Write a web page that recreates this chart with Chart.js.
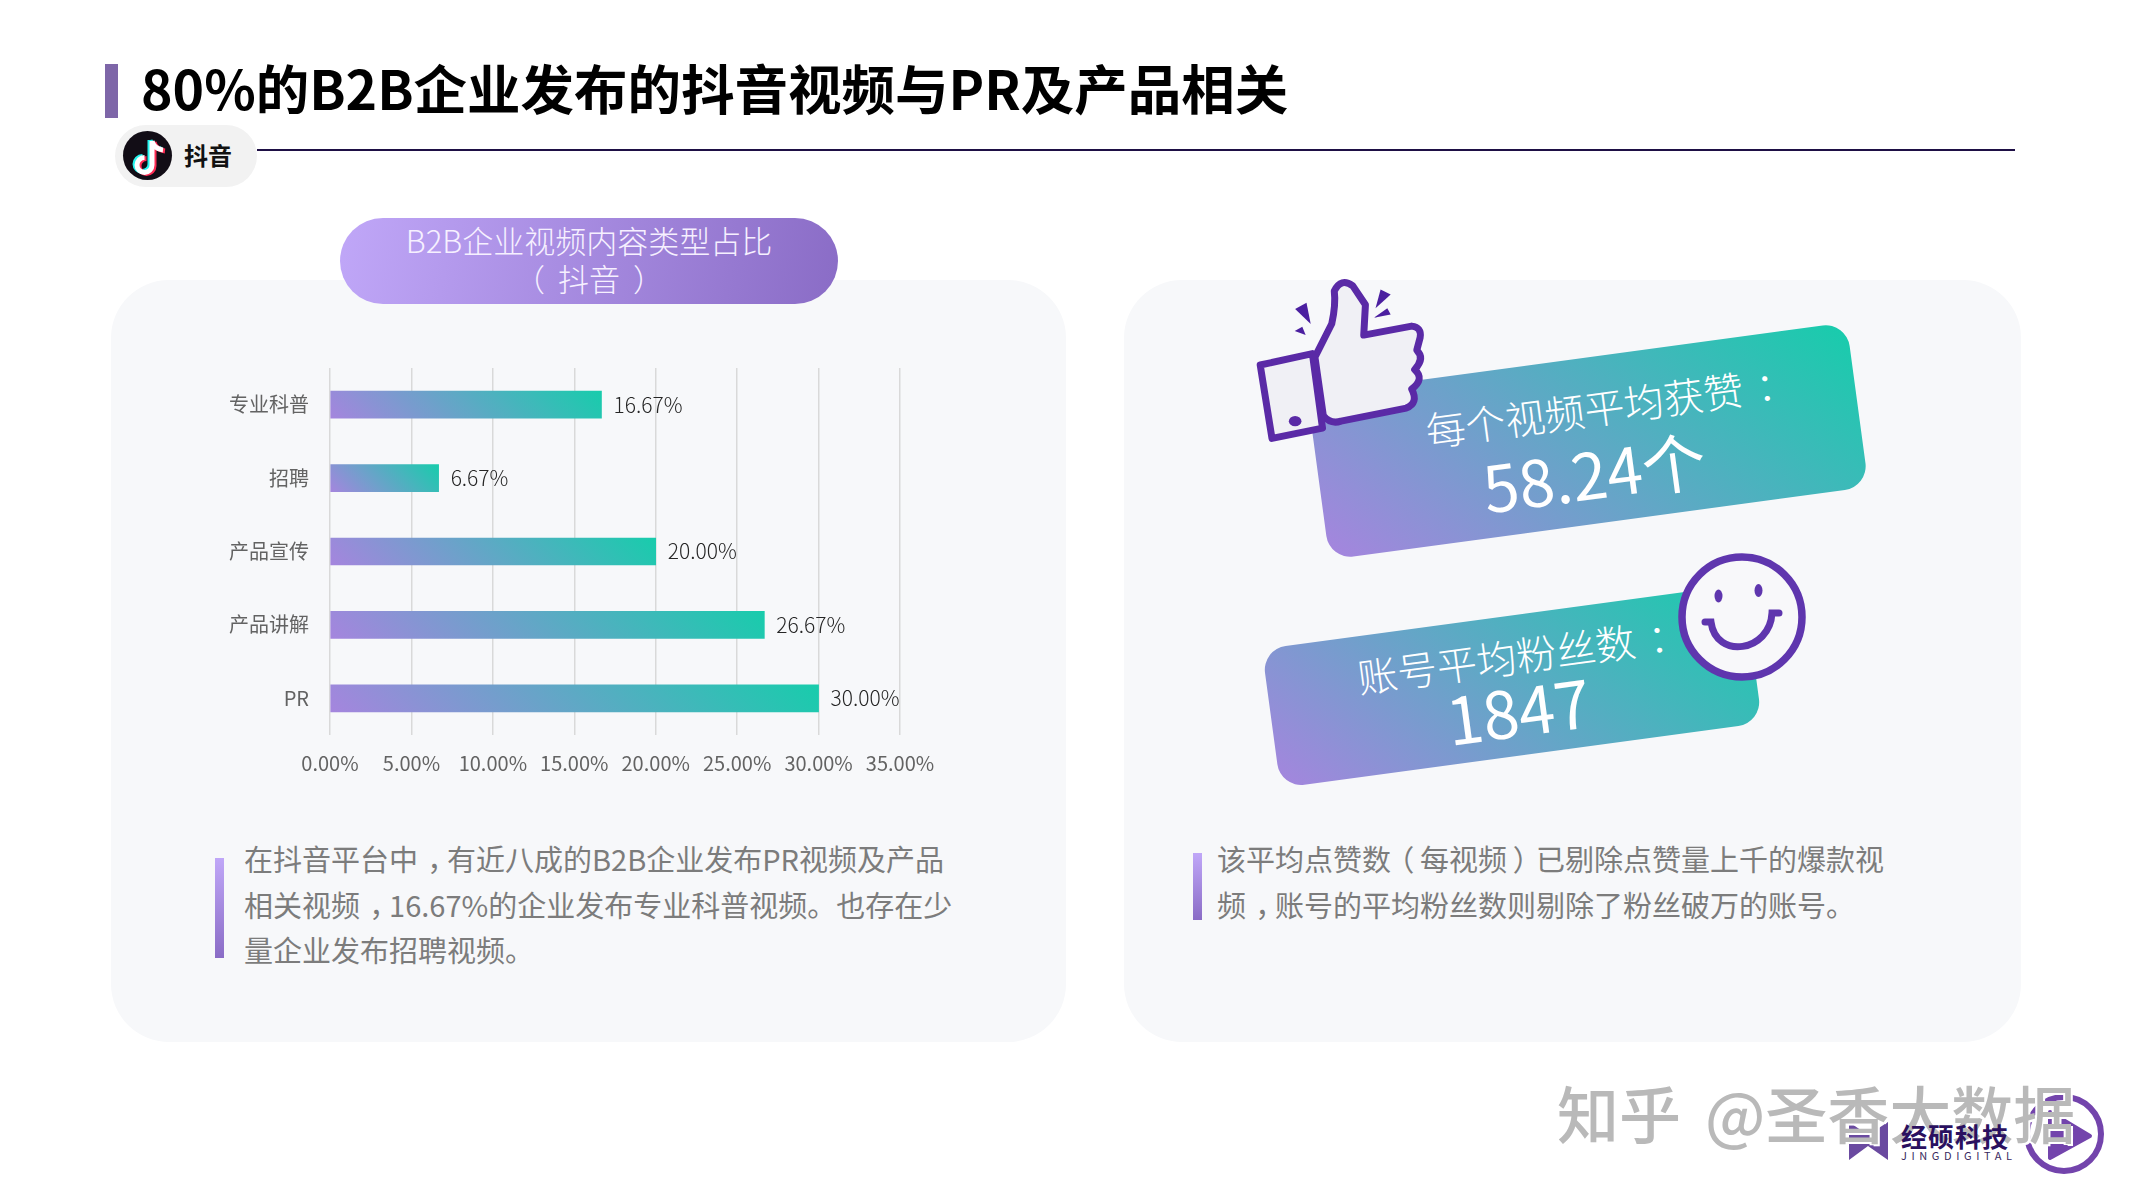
<!DOCTYPE html>
<html lang="zh">
<head>
<meta charset="utf-8">
<title>80%的B2B企业发布的抖音视频与PR及产品相关</title>
<script src="https://cdn.jsdelivr.net/npm/chart.js@4"></script>
<style>
    html, body { margin: 0; padding: 0; background: #fff; }
    body { position: relative; width: 2133px; height: 1200px; overflow: hidden; font-family: "Noto Sans CJK SC", "Noto Sans", sans-serif; }
    .abs { position: absolute; }
    /* the reference centres its fullwidth punctuation in the em box */
    .p { position: relative; left: .32em; }
    .pl { position: relative; left: -.2em; }
    .pr { position: relative; left: .2em; }
    .title { left: 141px; top: 47px; font-size: 53.5px; font-weight: 700; color: #000; line-height: 80px; white-space: nowrap; }
    .title-bar { left: 105px; top: 64px; width: 13px; height: 54px; background: #7e66a8; }
    .rule { left: 257px; top: 149px; width: 1758px; height: 1.5px; background: #1e0f45; }
    .tag { left: 115px; top: 125px; width: 142px; height: 62px; border-radius: 31px; background: #f2f2f2; }
    .tag-text { left: 184px; top: 137px; font-size: 24px; font-weight: 700; line-height: 36px; color: #111; }
    .card { top: 280px; height: 762px; border-radius: 58px; background: #f7f8fa; }
    .pill { left: 340px; top: 218px; width: 498px; height: 86px; border-radius: 43px; background: linear-gradient(100deg, #c0a7f8, #8a6cc6); color: #f6f0ff; text-align: center; font-size: 31px; font-weight: 300; line-height: 38px; padding-top: 3px; box-sizing: border-box; }
    .note-bar { width: 9px; background: linear-gradient(180deg, #c0a7f8, #8a6cc6); }
    .note { font-size: 29px; font-weight: 400; line-height: 45.5px; color: #7c7c7c; white-space: nowrap; }
    .stat { color: #fff; white-space: nowrap; transform: translate(-50%, -50%) rotate(-7.7deg); line-height: 1; }
    #chart { position: absolute; left: 160px; top: 340px; }
    .mark { left: 1557px; top: 1067px; font-size: 62px; font-weight: 500; line-height: 90px; word-spacing: 10px; color: #b9b9b9; text-shadow: 2px 2px 0 #fff, -2px 1px 0 #fff; white-space: nowrap; }
    .brand { left: 1901px; top: 1120px; font-size: 26px; font-weight: 700; line-height: 32px; color: #2a1060; letter-spacing: 1px; white-space: nowrap; }
    .brand-en { left: 1901px; top: 1148px; font-size: 11px; line-height: 14px; letter-spacing: 4.6px; color: #3a2a60; white-space: nowrap; }
</style>
</head>
<body>

<div class="abs title-bar"></div>
<div class="abs title">80%的B2B企业发布的抖音视频与PR及产品相关</div>
<div class="abs rule"></div>
<div class="abs tag"></div>
<div class="abs tag-text">抖音</div>

<div class="abs card" style="left:111px;width:955px"></div>
<div class="abs card" style="left:1124px;width:897px"></div>
<div class="abs pill">B2B企业视频内容类型占比<br><span class="pl">（</span> 抖音 <span class="pr">）</span></div>

<svg class="abs" style="left:0;top:0" width="2133" height="1200" viewBox="0 0 2133 1200">
    <defs>
        <linearGradient id="badgeA" gradientUnits="userSpaceOnUse" x1="-175" y1="175" x2="175" y2="-175">
            <stop offset="0" stop-color="#a585de"/><stop offset="1" stop-color="#18ccac"/>
        </linearGradient>
        <linearGradient id="badgeB" gradientUnits="userSpaceOnUse" x1="-157" y1="157" x2="157" y2="-157">
            <stop offset="0" stop-color="#a585de"/><stop offset="1" stop-color="#18ccac"/>
        </linearGradient>
    </defs>

    <!-- tiktok icon -->
    <circle cx="147.5" cy="155.5" r="24.5" fill="#120d16"/>
    <g fill="none" stroke-width="5">
        <path d="M150 140v24a7.5 7.5 0 1 1-7.5-7.5M150 140q2 8 11 9" stroke="#25f4ee"/>
        <path d="M154 142v24a7.5 7.5 0 1 1-7.5-7.5M154 142q2 8 11 9" stroke="#fe2c55"/>
        <path d="M152 141v24a7.5 7.5 0 1 1-7.5-7.5M152 141q2 8 11 9" stroke="#fff"/>
    </g>

    <!-- stat badges -->
    <g transform="translate(1588 441) rotate(-7.7)">
        <rect x="-272" y="-83" width="544" height="166" rx="24" fill="url(#badgeA)"/>
    </g>
    <g transform="translate(1512 686) rotate(-7.7)">
        <rect x="-243" y="-70" width="486" height="140" rx="24" fill="url(#badgeB)"/>
    </g>

    <!-- thumb, coordinates taken from the zoomed crop -->
    <g transform="translate(1240 260) scale(0.4209 0.3444)" stroke="#5a2aa6" stroke-linejoin="round">
        <path vector-effect="non-scaling-stroke" stroke-width="7" fill="#f0f0f5"
              d="M178 282 L218 185 Q228 130 224 90 Q240 50 268 75 L298 130 L294 218 L408 192 Q432 195 428 225 L420 262 Q440 285 415 318 Q440 345 408 375 Q425 415 395 430 L240 468 Q215 478 198 452 Z"/>
        <path vector-effect="non-scaling-stroke" stroke-width="7" fill="#f0f0f5"
              d="M48 305 L172 272 L196 488 L76 518 Z"/>
        <circle cx="131" cy="468" r="15" fill="#5a2aa6" stroke="none"/>
        <g fill="#4b1fa0" stroke="none">
            <path d="M131 142L158 124L168 186Z"/>
            <path d="M130 206L148 194L156 218Z"/>
            <path d="M334 86L358 100L322 140Z"/>
            <path d="M318 168L350 140L358 158Z"/>
        </g>
    </g>

    <!-- smile -->
    <circle cx="1742" cy="617" r="60" fill="#f8f8fa" stroke="#5f36ae" stroke-width="7.5"/>
    <ellipse cx="1718.5" cy="596" rx="4" ry="6.5" fill="#5f36ae"/>
    <ellipse cx="1758.5" cy="590.5" rx="4" ry="6.5" fill="#5f36ae"/>
    <path d="M1705 622h6C1716 660 1770 652 1772 613h7" fill="none" stroke="#5f36ae" stroke-width="7" stroke-linecap="round"/>

    <!-- brand logo -->
    <path d="M1849 1122L1868 1135L1888 1122V1160L1868 1146L1849 1160Z" fill="#6a4aa0"/>
    <circle cx="2064" cy="1134" r="37" fill="none" stroke="#7344ac" stroke-width="6"/>
    <path d="M2050 1112L2090 1136L2050 1158Z" fill="#7344ac" stroke="#7344ac" stroke-width="4" stroke-linejoin="round"/>
</svg>

<div class="abs stat" id="statLabelA" style="left:1604px;top:406px;font-size:40px;font-weight:300"></div>
<div class="abs stat" id="statValueA" style="left:1594px;top:471px;font-size:64px;font-weight:400"></div>
<div class="abs stat" id="statLabelB" style="left:1516px;top:655px;font-size:40px;font-weight:300"></div>
<div class="abs stat" id="statValueB" style="left:1518px;top:709px;font-size:65px;font-weight:400"></div>

<canvas id="chart" width="820" height="460"></canvas>

<div class="abs note-bar" style="left:215px;top:858px;height:100px"></div>
<div class="abs note" style="left:244px;top:836px">在抖音平台中<span class="p">，</span>有近八成的B2B企业发布PR视频及产品<br>相关视频<span class="p">，</span>16.67%的企业发布专业科普视频。也存在少<br>量企业发布招聘视频。</div>
<div class="abs note-bar" style="left:1193px;top:853px;height:67px"></div>
<div class="abs note" style="left:1217px;top:836px">该平均点赞数<span class="pl">（</span>每视频<span class="pr">）</span>已剔除点赞量上千的爆款视<br>频<span class="p">，</span>账号的平均粉丝数则剔除了粉丝破万的账号。</div>

<div class="abs mark">知乎 @圣香大数据</div>
<div class="abs brand">经硕科技</div>
<div class="abs brand-en">JINGDIGITAL</div>

<script>
const categories = ['专业科普', '招聘', '产品宣传', '产品讲解', 'PR'];
const shares = [16.67, 6.67, 20, 26.67, 30];
const tickValues = [0, 5, 10, 15, 20, 25, 30, 35];
const tickLabels = ['0.00%', '5.00%', '10.00%', '15.00%', '20.00%', '25.00%', '30.00%', '35.00%'];
const statLabels = ['每个视频平均获赞', '账号平均粉丝数'];
const statValues = ['58.24个', '1847'];

document.getElementById('statLabelA').innerHTML = statLabels[0] + '<span class="p">：</span>';
document.getElementById('statValueA').textContent = statValues[0];
document.getElementById('statLabelB').innerHTML = statLabels[1] + '<span class="p">：</span>';
document.getElementById('statValueB').textContent = statValues[1];

const chartFont = '"Noto Sans CJK SC", "Noto Sans", sans-serif';
const barHeight = 27;

// 45 degree gradient per bar, purple in the lower left corner
function barGradient(context) {
    const chart = context.chart;
    if (!chart.chartArea || context.dataIndex === undefined) {
        return '#5fa8c5';
    }
    const x0 = chart.scales.x.getPixelForValue(0);
    const x1 = chart.scales.x.getPixelForValue(shares[context.dataIndex]);
    const yc = chart.scales.y.getPixelForValue(context.dataIndex);
    const cx = (x0 + x1) / 2;
    const half = (x1 - x0 + barHeight) / 4;
    const gradient = chart.ctx.createLinearGradient(cx - half, yc + half, cx + half, yc - half);
    gradient.addColorStop(0, '#a585de');
    gradient.addColorStop(1, '#18ccac');
    return gradient;
}

const barValueLabels = {
    id: 'barValueLabels',
    afterDatasetsDraw(chart) {
        const ctx = chart.ctx;
        ctx.save();
        ctx.font = '300 21px ' + chartFont;
        ctx.fillStyle = '#262626';
        ctx.textAlign = 'left';
        ctx.textBaseline = 'middle';
        chart.getDatasetMeta(0).data.forEach((bar, i) => {
            ctx.fillText(shares[i].toFixed(2) + '%', bar.x + 12, bar.y);
        });
        ctx.restore();
    }
};

new Chart(document.getElementById('chart').getContext('2d'), {
    type: 'bar',
    data: {
        labels: categories,
        datasets: [{
            data: shares,
            backgroundColor: barGradient,
            barThickness: barHeight,
            borderSkipped: false
        }]
    },
    options: {
        indexAxis: 'y',
        responsive: false,
        animation: false,
        layout: { padding: { top: 28, right: 80, left: 0, bottom: 0 } },
        plugins: {
            legend: { display: false },
            tooltip: { enabled: false }
        },
        scales: {
            x: {
                min: 0,
                max: 35,
                afterBuildTicks(scale) {
                    scale.ticks = tickValues.map(v => ({ value: v }));
                },
                afterFit(scale) {
                    scale.height = 65;
                    scale.paddingRight = 0;
                    scale.paddingLeft = 0;
                },
                grid: { color: '#d9d9d9', lineWidth: 1.5, drawTicks: false },
                border: { display: false },
                ticks: {
                    callback: (value, i) => tickLabels[i],
                    font: { family: chartFont, size: 20 },
                    color: '#636363',
                    padding: 16,
                    maxRotation: 0,
                    autoSkip: false
                }
            },
            y: {
                afterFit(scale) {
                    scale.width = 170;
                    scale.paddingTop = 0;
                    scale.paddingBottom = 0;
                },
                grid: { display: false, drawTicks: false },
                border: { display: false },
                ticks: {
                    font: { family: chartFont, size: 20 },
                    color: '#636363',
                    padding: 21
                }
            }
        }
    },
    plugins: [barValueLabels]
});
</script>
</body>
</html>
